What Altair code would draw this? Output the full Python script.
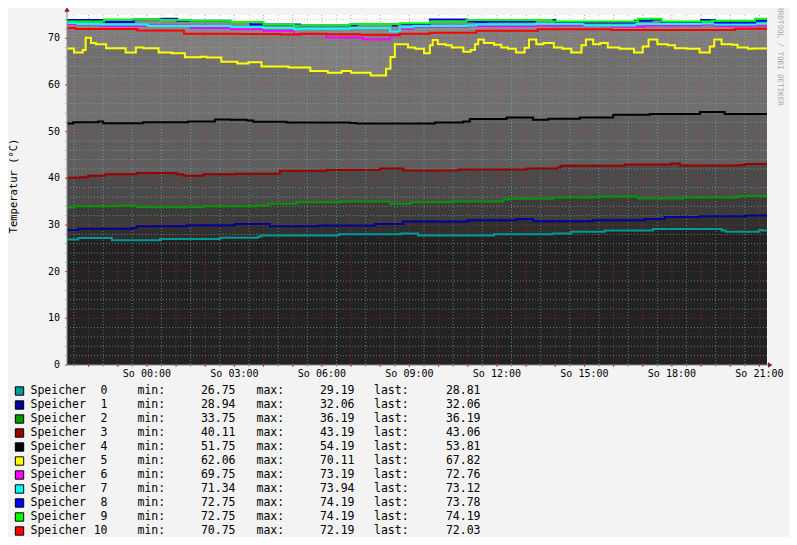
import altair as alt
import numpy as np
import pandas as pd

START, END = -2.74, 21.26
YMAX = 75
MONO = "DejaVu Sans Mono"

NUMS = ["0", "1", "2", "3", "4", "5", "6", "7", "8", "9", "10"]
LINE_COLORS = ["#009999", "#000099", "#009900", "#990000", "#000000", "#ffff00",
               "#ff00ff", "#00ffff", "#0000ff", "#00ff00", "#ff0000"]
FILL_COLORS = ["#222222", "#2f2f2f", "#3b3b3b", "#4a4a4a", "#5e5e5e", "#6f6f6f",
               "#8a8a8a", "#8a8a8a", "#8a8a8a", "#8a8a8a", "#7f7f7f"]
MINS = [26.75, 28.94, 33.75, 40.11, 51.75, 62.06, 69.75, 71.34, 72.75, 72.75, 70.75]
MAXS = [29.19, 32.06, 36.19, 43.19, 54.19, 70.11, 73.19, 73.94, 74.19, 74.19, 72.19]
LASTS = [28.81, 32.06, 36.19, 43.06, 53.81, 67.82, 72.76, 73.12, 73.78, 74.19, 72.03]

X_TICKS = [0, 3, 6, 9, 12, 15, 18, 21]
X_LABELS = ["So 00:00", "So 03:00", "So 06:00", "So 09:00", "So 12:00", "So 15:00", "So 18:00", "So 21:00"]
Y_TICKS = [0, 10, 20, 30, 40, 50, 60, 70]
Y_TITLE = "Temperatur (°C)"
WATERMARK = "RRDTOOL / TOBI OETIKER"

# hours relative to So 00:00, step values
T0 = [-2.74, -2.35, -1.2, 0.45, 2.5, 3.8, 3.9, 6.5, 6.6, 8.7, 9.3, 11.9, 13.9, 14.55, 15.7, 17.35, 19.7, 19.85, 21.0, 21.1]
V0 = [26.88, 27.19, 26.75, 27.0, 27.25, 27.5, 27.75, 27.88, 28.0, 28.19, 27.75, 28.0, 28.19, 28.56, 28.81, 29.12, 28.81, 28.56, 28.94, 28.81]
T1 = [-2.74, -2.35, -0.52, -0.35, 1.36, 3.02, 4.22, 5.87, 7.82, 8.79, 11.0, 12.67, 13.24, 15.3, 17.07, 17.76, 18.96, 20.5]
V1 = [28.94, 29.19, 29.38, 29.75, 29.94, 30.19, 29.75, 29.88, 30.19, 30.75, 31.0, 31.31, 30.81, 31.0, 31.31, 31.69, 31.88, 32.06]
T2 = [-2.74, -2.47, -0.93, -0.35, 1.93, 3.76, 4.16, 5.13, 6.67, 8.33, 9.07, 10.5, 12.22, 12.44, 13.93, 15.53, 16.84, 18.39, 20.27]
V2 = [33.75, 34.0, 34.19, 33.81, 34.0, 34.19, 34.56, 34.88, 35.06, 34.56, 34.88, 35.06, 35.44, 35.62, 35.88, 36.12, 35.69, 35.88, 36.19]
T3 = [-2.74, -2.3, -2.01, -1.44, -0.35, 1.02, 1.25, 1.93, 3.02, 4.56, 6.16, 7.99, 8.79, 10.68, 13.03, 14.1, 14.2, 16.38, 17.98, 18.27, 20.33, 20.5]
V3 = [40.11, 40.25, 40.56, 40.88, 41.12, 40.88, 40.56, 40.88, 41.0, 41.62, 41.81, 42.12, 41.69, 41.88, 42.12, 42.38, 42.69, 42.94, 43.19, 42.75, 42.88, 43.06]
T4 = [-2.74, -2.53, -1.67, -1.5, -0.13, 1.42, 2.33, 2.85, 3.42, 3.65, 4.79, 6.96, 7.19, 9.87, 10.84, 11.07, 12.33, 13.24, 13.76, 14.84, 15.99, 17.24, 18.96, 19.81]
V4 = [51.75, 52.0, 52.19, 51.81, 52.0, 52.19, 52.62, 52.56, 52.38, 52.12, 51.94, 51.88, 51.75, 51.94, 52.19, 52.69, 53.06, 52.56, 52.75, 53.06, 53.62, 53.81, 54.19, 53.81]
T5 = [-2.74, -2.5, -2.2, -2.1, -1.92, -1.75, -1.4, -0.73, -0.38, -0.12, 0.4, 0.85, 1.3, 1.85, 2.05, 2.55, 3.1, 3.48, 3.93, 4.85,
      5.6, 6.2, 6.68, 7.0, 7.67, 8.2, 8.35, 8.5, 8.95, 9.2, 9.5, 9.7, 9.8, 9.97, 10.25, 10.45, 10.85, 11.1, 11.25, 11.36,
      11.55, 11.9, 12.15, 12.38, 12.65, 12.95, 13.1, 13.35, 13.6, 13.95, 14.25, 14.55, 14.9, 15.05, 15.3, 15.55, 15.8, 16.2, 16.7, 17.0,
      17.2, 17.5, 17.85, 18.1, 18.5, 18.95, 19.3, 19.45, 19.7, 20.05, 20.25, 20.6, 20.8]
V5 = [67.81, 66.94, 67.5, 70.11, 69.0, 68.75, 67.88, 66.94, 68.06, 67.88, 66.94, 66.81, 65.94, 66.06, 65.88, 65.0, 64.62, 64.88, 63.94, 63.75,
      63.0, 62.62, 63.0, 62.62, 62.06, 63.5, 66.0, 68.75, 68.06, 67.75, 66.81, 68.5, 69.62, 68.75, 68.5, 68.06, 67.12, 67.5, 68.75, 69.75,
      69.0, 68.62, 68.06, 67.75, 66.94, 68.0, 69.75, 68.75, 69.0, 68.06, 67.75, 66.94, 68.5, 69.75, 68.75, 69.0, 68.06, 67.75, 66.94, 68.25,
      69.75, 68.75, 68.5, 67.88, 67.75, 66.94, 68.25, 69.75, 68.75, 68.62, 68.06, 67.75, 67.82]
T6 = [-2.74, -2.45, -1.59, 0.13, 1.5, 2.87, 4.0, 5.04, 6.16, 7.41, 8.33, 8.67, 9.13, 10.96, 13.3, 15.0, 15.93, 17.07, 19.0, 19.47, 20.85]
V6 = [73.0, 72.94, 72.62, 72.75, 72.19, 71.94, 71.62, 70.94, 70.19, 69.75, 70.62, 72.06, 72.5, 72.62, 72.75, 72.62, 72.5, 72.75, 72.94, 72.62, 72.76]
T7 = [-2.74, -2.39, -1.59, 0.02, 2.87, 4.0, 5.04, 5.25, 6.96, 8.33, 8.67, 9.13, 10.96, 11.3, 13.3, 15.0, 16.73, 19.0, 19.47, 20.85]
V7 = [73.31, 73.06, 72.94, 72.62, 72.44, 72.19, 71.94, 72.06, 72.19, 71.44, 72.38, 72.62, 72.75, 72.94, 73.06, 72.75, 73.06, 73.19, 72.94, 73.12]
T8 = [-2.74, -1.47, -0.45, 0.47, 1.04, 2.87, 3.55, 5.25, 6.96, 7.19, 8.44, 8.56, 8.9, 9.7, 10.96, 11.3, 11.64, 13.3, 14.0, 15.0,
      16.73, 17.3, 17.64, 19.0, 19.47, 20.85]
V8 = [73.94, 73.5, 74.06, 74.19, 73.75, 73.5, 72.94, 72.75, 72.81, 73.06, 72.75, 73.06, 73.06, 74.06, 73.62, 73.5, 73.62, 73.94, 73.5, 73.38,
      73.75, 74.06, 73.5, 73.94, 73.38, 73.78]
T9 = [-2.74, -1.47, 0.47, 1.5, 2.87, 4.0, 5.04, 6.96, 8.67, 9.7, 10.96, 13.87, 16.84, 17.64, 19.36, 20.85]
V9 = [73.62, 74.06, 73.94, 73.75, 73.5, 72.94, 72.75, 73.06, 73.25, 73.62, 73.94, 73.62, 74.19, 73.62, 73.75, 74.19]
T10 = [-2.74, -2.45, -0.33, 1.27, 3.2, 4.58, 5.25, 6.16, 7.3, 8.67, 9.7, 11.3, 13.4, 15.93, 20.16]
V10 = [72.19, 72.0, 71.69, 71.0, 70.94, 70.81, 71.0, 70.88, 70.75, 71.0, 71.19, 71.62, 71.94, 71.81, 72.03]

TIMES = [T0, T1, T2, T3, T4, T5, T6, T7, T8, T9, T10]
VALUES = [V0, V1, V2, V3, V4, V5, V6, V7, V8, V9, V10]
frames = [pd.DataFrame({"h": t + [END], "v": v + [v[-1]]}) for t, v in zip(TIMES, VALUES)]

xs = alt.Scale(domain=[START, END], nice=False, zero=False)
ys = alt.Scale(domain=[0, YMAX], nice=False, zero=False)


def X(f):
    return alt.X(f, scale=xs, axis=None)


def Y(f):
    return alt.Y(f, scale=ys, axis=None)


GRID_C = "#a8a8a8"
MGRID_C = "#d03030"
AXIS_C = "#8a8a8a"

AREA_ORDER = [9, 8, 7, 6, 10, 5, 4, 3, 2, 1, 0]
areas = [
    alt.Chart(frames[i]).mark_area(interpolate="step-after", color=FILL_COLORS[i], opacity=1)
    .encode(x=X("h:Q"), y=Y("v:Q"))
    for i in AREA_ORDER
]

minor_v = [float(h) for h in np.arange(-2.5, END, 0.5) if h % 1 != 0]
major_v = [float(h) for h in np.arange(-2.0, END, 1.0)]
minor_h = [v for v in range(2, 75, 2) if v % 10 != 0]
major_h = list(range(10, 75, 10))
dv_minor = pd.DataFrame({"h": minor_v})
dv_major = pd.DataFrame({"h": major_v})
dh_minor = pd.DataFrame({"v": minor_h})
dh_major = pd.DataFrame({"v": [0] + major_h})

grid = [
    alt.Chart(dv_minor).mark_rule(color=GRID_C, strokeDash=[1, 2], opacity=0.6, strokeWidth=1).encode(x=X("h:Q")),
    alt.Chart(dh_minor).mark_rule(color=GRID_C, strokeDash=[1, 2], opacity=0.6, strokeWidth=1).encode(y=Y("v:Q")),
    alt.Chart(dv_major).mark_rule(color=MGRID_C, strokeDash=[1, 2], opacity=0.55, strokeWidth=1).encode(x=X("h:Q")),
    alt.Chart(pd.DataFrame({"v": major_h})).mark_rule(color=MGRID_C, strokeDash=[1, 2], opacity=0.55, strokeWidth=1).encode(y=Y("v:Q")),
]

lines = [
    alt.Chart(frames[i]).mark_line(interpolate="step-after", color=LINE_COLORS[i], strokeWidth=2)
    .encode(x=X("h:Q"), y=Y("v:Q"))
    for i in range(11)
]

# hand-drawn axes (rrdtool style)
ARROW = "#7f1f1f"
deco = pd.DataFrame({"x0": [START], "x1": [21.33], "xa": [21.37],
                     "y0": [0.0], "y1": [76.3], "ya": [76.2]})
axes = [
    alt.Chart(deco).mark_rule(color=AXIS_C).encode(x=X("x0:Q"), y=Y("y0:Q"), y2="y1:Q"),
    alt.Chart(deco).mark_rule(color=AXIS_C).encode(x=X("x0:Q"), x2="x1:Q", y=Y("y0:Q")),
    alt.Chart(deco).mark_point(shape="triangle-up", filled=True, size=28, color=ARROW, opacity=1)
    .encode(x=X("x0:Q"), y=Y("ya:Q")),
    alt.Chart(deco).mark_point(shape="triangle-right", filled=True, size=28, color=ARROW, opacity=1)
    .encode(x=X("xa:Q"), y=Y("y0:Q")),
    # ticks
    alt.Chart(dh_minor).mark_rule(color=GRID_C).encode(x=alt.value(-2), x2=alt.value(0), y=Y("v:Q")),
    alt.Chart(dh_major).mark_rule(color=MGRID_C).encode(x=alt.value(-2), x2=alt.value(0), y=Y("v:Q")),
    alt.Chart(dv_minor).mark_rule(color=GRID_C).encode(y=alt.value(350), y2=alt.value(352), x=X("h:Q")),
    alt.Chart(dv_major).mark_rule(color=MGRID_C).encode(y=alt.value(350), y2=alt.value(352), x=X("h:Q")),
    # tick labels
    alt.Chart(pd.DataFrame({"v": Y_TICKS})).mark_text(font=MONO, fontSize=10, align="right", baseline="middle", color="#000000")
    .encode(x=alt.value(-7), y=Y("v:Q"), text=alt.Text("v:Q", format="d")),
    alt.Chart(pd.DataFrame({"h": X_TICKS, "lab": X_LABELS})).mark_text(font=MONO, fontSize=10, align="center", baseline="top", color="#000000")
    .encode(x=X("h:Q"), y=alt.value(354), text="lab:N"),
    alt.Chart(pd.DataFrame({"t": [Y_TITLE]})).mark_text(font=MONO, fontSize=10.5, angle=270, align="center", baseline="middle", color="#000000")
    .encode(x=alt.value(-53), y=alt.value(171), text="t:N"),
    alt.Chart(pd.DataFrame({"t": [WATERMARK]})).mark_text(font=MONO, fontSize=7.5, angle=90, align="center", baseline="middle", color="#a8a8a8")
    .encode(x=alt.value(713), y=alt.value(41), text="t:N"),
]

main = alt.layer(*areas, *grid, *lines, *axes)

leg = pd.DataFrame({
    "row": list(range(11)),
    "num": NUMS,
    "color": LINE_COLORS,
    "mn": [f"{m:.2f}" for m in MINS],
    "mx": [f"{m:.2f}" for m in MAXS],
    "ls": [f"{m:.2f}" for m in LASTS],
})
ly = alt.Y("row:Q", scale=alt.Scale(domain=[0, 10], range=[376, 516]), axis=None)
FS = 11.5


def txt(xpos, align, **enc):
    return alt.Chart(leg).mark_text(font=MONO, fontSize=FS, align=align, baseline="middle", color="#000000").encode(
        x=alt.value(xpos), y=ly, **enc)


legend = alt.layer(
    alt.Chart(leg).mark_square(size=70, stroke="#000000", strokeWidth=1, filled=True, opacity=1).encode(
        x=alt.value(-47.5), y=ly, fill=alt.Fill("color:N", scale=None)),
    txt(-36.5, "left", text=alt.value("Speicher")),
    txt(40.5, "right", text="num:N"),
    txt(70.5, "left", text=alt.value("min:")),
    txt(168.5, "right", text="mn:N"),
    txt(189.5, "left", text=alt.value("max:")),
    txt(287.5, "right", text="mx:N"),
    txt(307, "left", text=alt.value("last:")),
    txt(413.5, "right", text="ls:N"),
)

chart = alt.layer(main, legend).resolve_scale(y="independent").properties(
    width=700, height=350,
    autosize=alt.AutoSizeParams(type="none"),
    padding={"left": 59, "top": 7, "right": 22, "bottom": 172},
    background="#f3f3f3",
).configure_view(fill="#ffffff", strokeWidth=0)

chart.save("out.html", embed_options={"renderer": "svg", "actions": False})
